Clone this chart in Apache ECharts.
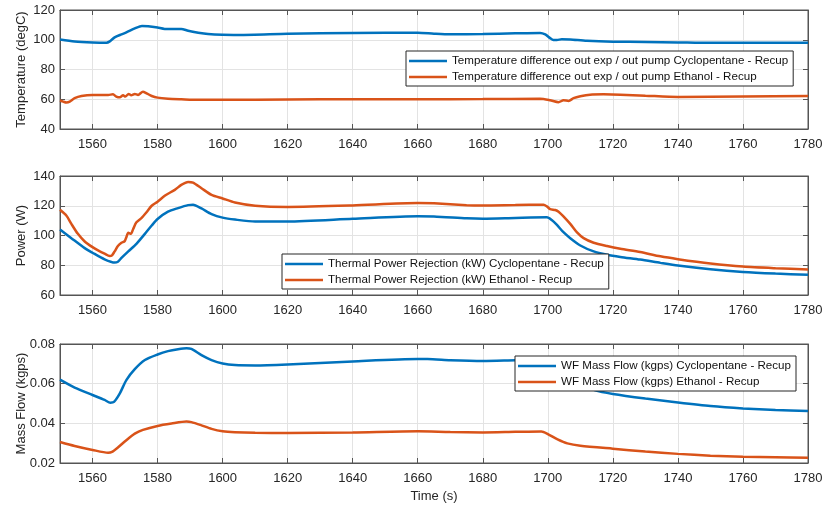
<!DOCTYPE html>
<html>
<head>
<meta charset="utf-8">
<script src="https://cdn.jsdelivr.net/npm/echarts@6/dist/echarts.min.js"></script>
<style>
html,body{margin:0;padding:0;background:#fff;}
#chart{width:823px;height:506px;}
</style>
</head>
<body>
<div id="chart"></div>
<script>
// ---- Data ----
const xTicks = [1560, 1580, 1600, 1620, 1640, 1660, 1680, 1700, 1720, 1740, 1760, 1780];

const tempCycloT = [1550,1554.5,1560,1564.3,1565.3,1566.8,1568.9,1570.4,1573,1575.2,1577.1,1580,1582.2,1587.3,1589.4,1592.5,1595.5,1600,1605,1620,1640,1660,1665,1670,1680,1690,1697.6,1699.2,1700.7,1701.7,1702.8,1704.3,1706.9,1712,1720,1730,1740,1750,1765,1780];
const tempCycloV = [100.2,98.9,98.2,98.0,98.9,101.6,103.6,104.9,107.6,109.3,109.1,108.2,107.3,107.3,106.0,104.7,103.8,103.3,103.2,104.0,104.6,104.7,104.1,103.7,103.8,104.3,104.6,103.6,101.1,99.8,99.8,100.4,100.2,99.3,98.7,98.5,98.2,97.9,97.9,98.0];

const tempEthT = [1550,1551,1552,1553,1554.5,1556.6,1560,1564.8,1566.3,1567.3,1568.4,1569.4,1570.1,1571.1,1571.9,1573,1574,1575.5,1576.6,1578.2,1580,1583.2,1587.3,1592.5,1600,1620,1640,1660,1680,1697.6,1700.7,1703.3,1704.8,1706.4,1707.9,1710,1713,1717.1,1722.3,1730,1740,1760,1780];
const tempEthV = [59.3,58.4,57.8,58.4,60.7,62.2,62.9,62.9,63.3,61.8,61.3,62.7,61.8,63.6,62.7,63.6,62.9,65.1,64.0,62.2,61.1,60.4,60.0,59.6,59.6,59.9,60.0,60.0,60.1,60.3,59.3,58.0,59.3,58.9,60.7,62.0,63.1,63.3,63.1,62.4,61.5,61.9,62.2];

const powCycloT = [1550,1553.5,1557.6,1560,1563.7,1566.8,1567.8,1568.9,1571,1573.5,1576.1,1578.2,1580,1583.2,1586.3,1589.4,1590.9,1593.5,1596.6,1600,1603.8,1610,1620,1640,1660,1665,1675,1680,1690,1699.7,1701.2,1702.8,1704.8,1706.9,1710,1714.1,1718.2,1722.3,1728.4,1734.6,1740,1750,1760,1770,1780];
const powCycloV = [104.0,98.2,91.5,88.4,84.0,81.8,82.4,84.9,89.3,94.4,101.1,106.7,111.1,116.0,118.4,120.4,120.7,118.2,114.4,112.0,110.7,109.4,109.4,111.2,112.9,112.8,111.6,111.3,111.8,112.2,110.4,107.1,102.2,98.2,93.3,89.3,87.1,85.6,83.8,81.6,79.8,77.3,75.5,74.4,73.6];

const powEthT = [1550,1552,1553.5,1555.5,1557.6,1560,1561.7,1563.7,1565.3,1566,1566.8,1567.8,1568.9,1569.9,1570.4,1571,1571.8,1572.5,1573.5,1575.1,1576.6,1578.2,1580,1582.2,1585.3,1587.3,1589.4,1590.9,1593.5,1596.6,1600,1603.8,1610,1620,1640,1660,1665,1675,1680,1690,1698.7,1699.7,1700.7,1702.3,1703.3,1704.8,1706.9,1708.9,1711,1714.1,1718.2,1722.3,1728.4,1734.6,1740,1750,1760,1770,1780];
const powEthV = [117.3,113.3,107.8,101.1,96.0,92.2,90.0,87.8,86.2,86.7,89.3,92.9,95.1,96.2,98.9,101.8,101.1,104.4,108.9,111.8,115.6,120.0,122.7,126.7,130.7,134.0,136.0,135.6,131.8,127.3,124.9,122.2,120.0,119.2,120.2,121.8,121.6,120.4,120.2,120.5,120.7,119.6,117.8,117.1,116.0,112.9,107.8,102.2,98.2,95.1,92.9,91.1,88.9,86.0,84.1,81.2,79.1,78.0,77.2];

const flowCycloT = [1550,1554.5,1560,1563.7,1565.5,1566.6,1568.4,1570.4,1573,1576.1,1580,1583.2,1586.3,1588.9,1590.4,1593.5,1596.6,1600,1603.8,1610,1620,1640,1660,1663,1670,1680,1690,1698,1700,1703,1706,1710,1714.6,1720,1730,1740,1750,1760,1770,1780];
const flowCycloV = [0.0620,0.0580,0.0543,0.0518,0.0504,0.0508,0.0551,0.0618,0.0673,0.0719,0.0747,0.0764,0.0774,0.0779,0.0775,0.0744,0.0719,0.0702,0.0694,0.0692,0.0697,0.0712,0.0724,0.0724,0.0718,0.0714,0.0718,0.0720,0.0712,0.0680,0.0640,0.0600,0.0566,0.0548,0.0525,0.0505,0.0487,0.0475,0.0467,0.0462];

const flowEthT = [1550,1554.5,1560,1564.8,1566,1567.8,1570.4,1573,1575.5,1580,1584.3,1588.9,1590.4,1593.5,1596.6,1600,1603.8,1610,1620,1640,1660,1670,1680,1690,1698,1700,1703,1706,1710,1720,1730,1740,1750,1760,1770,1780];
const flowEthV = [0.0306,0.0286,0.0266,0.0252,0.0256,0.0278,0.0315,0.0348,0.0367,0.0387,0.0399,0.0409,0.0406,0.0390,0.0372,0.0360,0.0355,0.0352,0.0351,0.0354,0.0360,0.0356,0.0354,0.0357,0.0359,0.0346,0.0319,0.0299,0.0287,0.0272,0.0258,0.0246,0.0237,0.0232,0.0229,0.0226];

const names = [
  'Temperature difference out exp / out pump Cyclopentane - Recup',
  'Temperature difference out exp / out pump Ethanol - Recup',
  'Thermal Power Rejection (kW) Cyclopentane - Recup',
  'Thermal Power Rejection (kW) Ethanol - Recup',
  'WF Mass Flow (kgps) Cyclopentane - Recup',
  'WF Mass Flow (kgps) Ethanol - Recup'
];
const yNames = ['Temperature (degC)', 'Power (W)', 'Mass Flow (kgps)'];
const yRanges = [[40,120,20],[60,140,20],[0.02,0.08,0.02]];

// ---- Styling ----
const FONT = "'Liberation Sans', Arial, Helvetica, sans-serif";
const AXC = '#262626';
const BLUE = '#0072BD', ORANGE = '#D95319';
const gridTops = [10, 176, 344];
const gridH = 119;

function zip(t, v){ return t.map((x,i)=>[x, v[i]]); }

const grids = gridTops.map(t => ({left:60, width:748, top:t, height:gridH, show:true, borderColor:'#555', borderWidth:1, backgroundColor:'#fff', outerBoundsMode:'none', containLabel:false}));

const xAxes = [];
const yAxes = [];
for (let i=0;i<3;i++){
  xAxes.push({
    type:'value', gridIndex:i, min:1550, max:1780, position:'bottom',
    axisLine:{show:true, onZero:false, lineStyle:{color:'#555', width:1}},
    axisTick:{show:true, inside:true, length:5, customValues:xTicks, lineStyle:{color:'#555'}},
    axisLabel:{show:true, customValues:xTicks, color:AXC, fontFamily:FONT, fontSize:13, margin:9,
      formatter: v => String(Math.round(v))},
    splitLine:{show:true, lineStyle:{color:'#e3e3e3', width:1}},
    name: i===2 ? 'Time (s)' : '', nameLocation:'middle', nameGap:27, nameMoveOverlap:false,
    nameTextStyle:{color:AXC, fontFamily:FONT, fontSize:13}
  });
}
for (let i=0;i<3;i++){
  xAxes.push({
    type:'value', gridIndex:i, min:1550, max:1780, position:'top',
    axisLine:{show:true, onZero:false, lineStyle:{color:'#555'}},
    axisTick:{show:true, inside:true, length:5, customValues:xTicks, lineStyle:{color:'#555'}},
    axisLabel:{show:false}, splitLine:{show:false}
  });
}
for (let i=0;i<3;i++){
  const r = yRanges[i];
  yAxes.push({
    type:'value', gridIndex:i, min:r[0], max:r[1], interval:r[2], position:'left',
    axisLine:{show:true, onZero:false, lineStyle:{color:'#555'}},
    axisTick:{show:true, inside:true, length:5, lineStyle:{color:'#555'}},
    axisLabel:{color:AXC, fontFamily:FONT, fontSize:13, margin:5,
      formatter: i===2 ? (v => v.toFixed(2)) : (v => String(Math.round(v)))},
    splitLine:{show:true, lineStyle:{color:'#e3e3e3', width:1}},
    name: yNames[i], nameLocation:'middle', nameGap:32, nameRotate:90, nameMoveOverlap:false,
    nameTextStyle:{color:AXC, fontFamily:FONT, fontSize:13}
  });
}
for (let i=0;i<3;i++){
  const r = yRanges[i];
  yAxes.push({
    type:'value', gridIndex:i, min:r[0], max:r[1], interval:r[2], position:'right',
    axisLine:{show:true, onZero:false, lineStyle:{color:'#555'}},
    axisTick:{show:true, inside:true, length:5, lineStyle:{color:'#555'}},
    axisLabel:{show:false}, splitLine:{show:false}
  });
}

const dataSets = [
  zip(tempCycloT,tempCycloV), zip(tempEthT,tempEthV),
  zip(powCycloT,powCycloV), zip(powEthT,powEthV),
  zip(flowCycloT,flowCycloV), zip(flowEthT,flowEthV)
];
const series = dataSets.map((d,k)=>({
  type:'line', name:names[k], data:d,
  xAxisIndex:Math.floor(k/2), yAxisIndex:Math.floor(k/2),
  showSymbol:false, symbol:'none', smooth:0.25,
  lineStyle:{color: k%2===0 ? BLUE : ORANGE, width:2.5},
  itemStyle:{color: k%2===0 ? BLUE : ORANGE},
  z: k%2===0 ? 3 : 2
}));

const legendPos = [{left:406, top:51}, {left:282, top:254}, {left:515, top:356}];
const legends = legendPos.map((p,i)=>({
  left:p.left, top:p.top, orient:'vertical',
  data:[names[2*i], names[2*i+1]],
  icon:'rect', itemWidth:38, itemHeight:2.5, itemGap:2,
  padding:[3,5,2,3],
  backgroundColor:'#fff', borderColor:'#262626', borderWidth:1,
  textStyle:{color:'#111', fontFamily:FONT, fontSize:11.6, lineHeight:14},
  selectedMode:false
}));

const chart = echarts.init(document.getElementById('chart'), null, {renderer:'canvas'});
chart.setOption({
  backgroundColor:'#fff',
  animation:false,
  grid:grids, xAxis:xAxes, yAxis:yAxes, series:series, legend:legends
});
</script>
</body>
</html>
